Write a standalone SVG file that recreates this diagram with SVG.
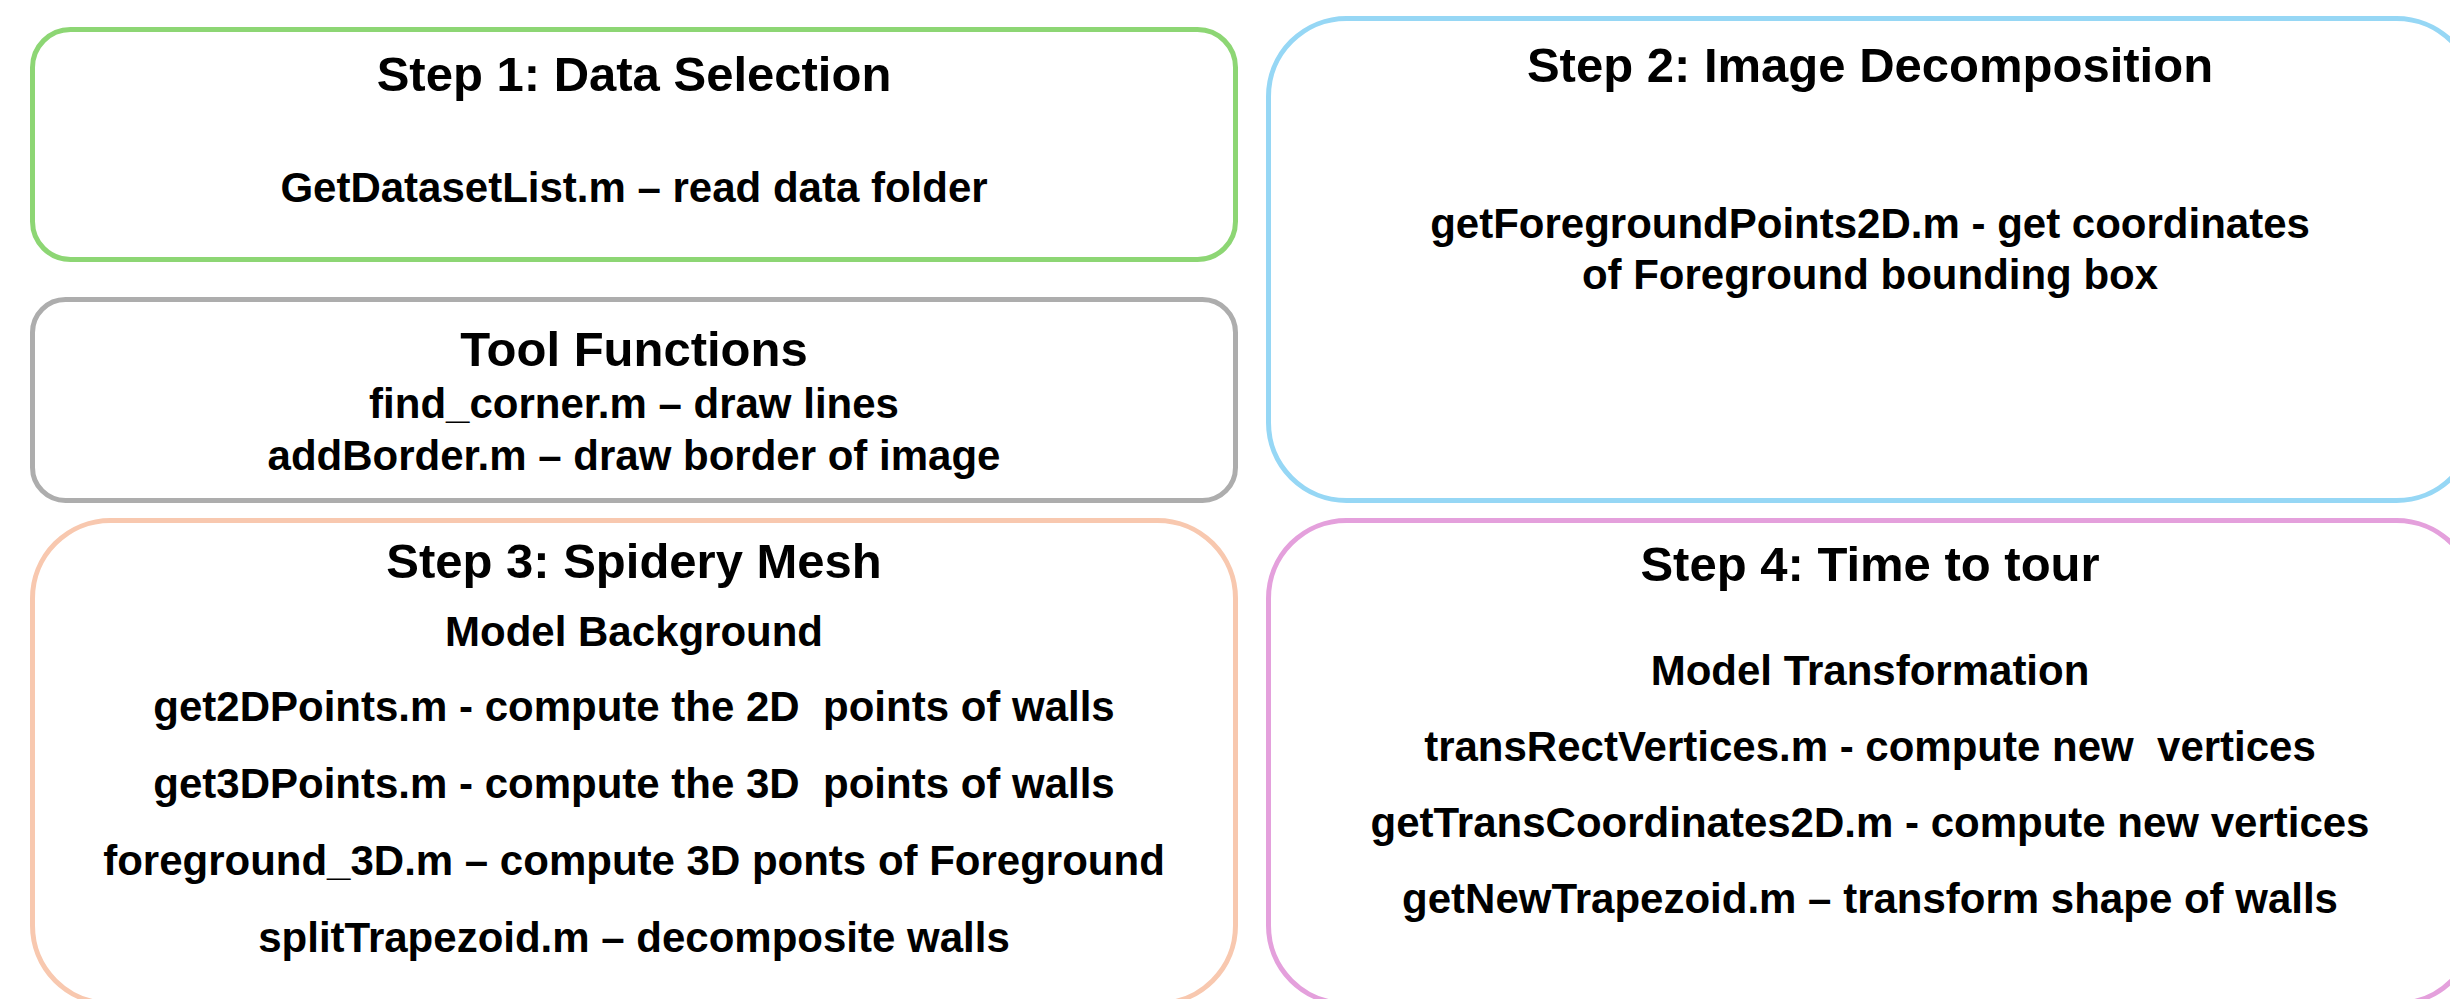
<svg xmlns="http://www.w3.org/2000/svg" width="2450" height="999" viewBox="0 0 2450 999">
  <style>
    .box { fill: #ffffff; stroke-width: 5; }
    .title { font-family: "Liberation Sans", Arial, sans-serif; font-weight: bold; font-size: 49px; fill: #000000; text-anchor: middle; }
    .body { font-family: "Liberation Sans", Arial, sans-serif; font-weight: bold; font-size: 42px; fill: #000000; text-anchor: middle; white-space: pre; }
  </style>
  <rect x="0" y="0" width="2450" height="999" fill="#ffffff"/>

  <g id="step1">
    <rect class="box" x="32.5" y="29.5" width="1203" height="230" rx="38" stroke="#8dd674"/>
    <text class="title" x="634" y="91">Step 1: Data Selection</text>
    <text class="body" x="634" y="202">GetDatasetList.m – read data folder</text>
  </g>

  <g id="tools">
    <rect class="box" x="32.5" y="299.5" width="1203" height="201" rx="33" stroke="#adadad"/>
    <text class="title" x="634" y="366">Tool Functions</text>
    <text class="body" x="634" y="418">find_corner.m – draw lines</text>
    <text class="body" x="634" y="470">addBorder.m – draw border of image</text>
  </g>

  <g id="step2">
    <rect class="box" x="1268.5" y="18.5" width="1206" height="482" rx="78" stroke="#96d7f5"/>
    <text class="title" x="1870" y="82">Step 2: Image Decomposition</text>
    <text class="body" x="1870" y="238">getForegroundPoints2D.m - get coordinates</text>
    <text class="body" x="1870" y="289">of Foreground bounding box</text>
  </g>

  <g id="step3">
    <rect class="box" x="32.5" y="520.5" width="1203" height="483" rx="78" stroke="#f8c8af"/>
    <text class="title" x="634" y="578">Step 3: Spidery Mesh</text>
    <text class="body" x="634" y="646">Model Background</text>
    <text class="body" x="634" y="721">get2DPoints.m - compute the 2D  points of walls</text>
    <text class="body" x="634" y="798">get3DPoints.m - compute the 3D  points of walls</text>
    <text class="body" x="634" y="875">foreground_3D.m – compute 3D ponts of Foreground</text>
    <text class="body" x="634" y="952">splitTrapezoid.m – decomposite walls</text>
  </g>

  <g id="step4">
    <rect class="box" x="1268.5" y="520.5" width="1206" height="483" rx="78" stroke="#e4a0dc"/>
    <text class="title" x="1870" y="581">Step 4: Time to tour</text>
    <text class="body" x="1870" y="685">Model Transformation</text>
    <text class="body" x="1870" y="761">transRectVertices.m - compute new  vertices</text>
    <text class="body" x="1870" y="837">getTransCoordinates2D.m - compute new vertices</text>
    <text class="body" x="1870" y="913">getNewTrapezoid.m – transform shape of walls</text>
  </g>

  <g id="connectors"></g>
</svg>
